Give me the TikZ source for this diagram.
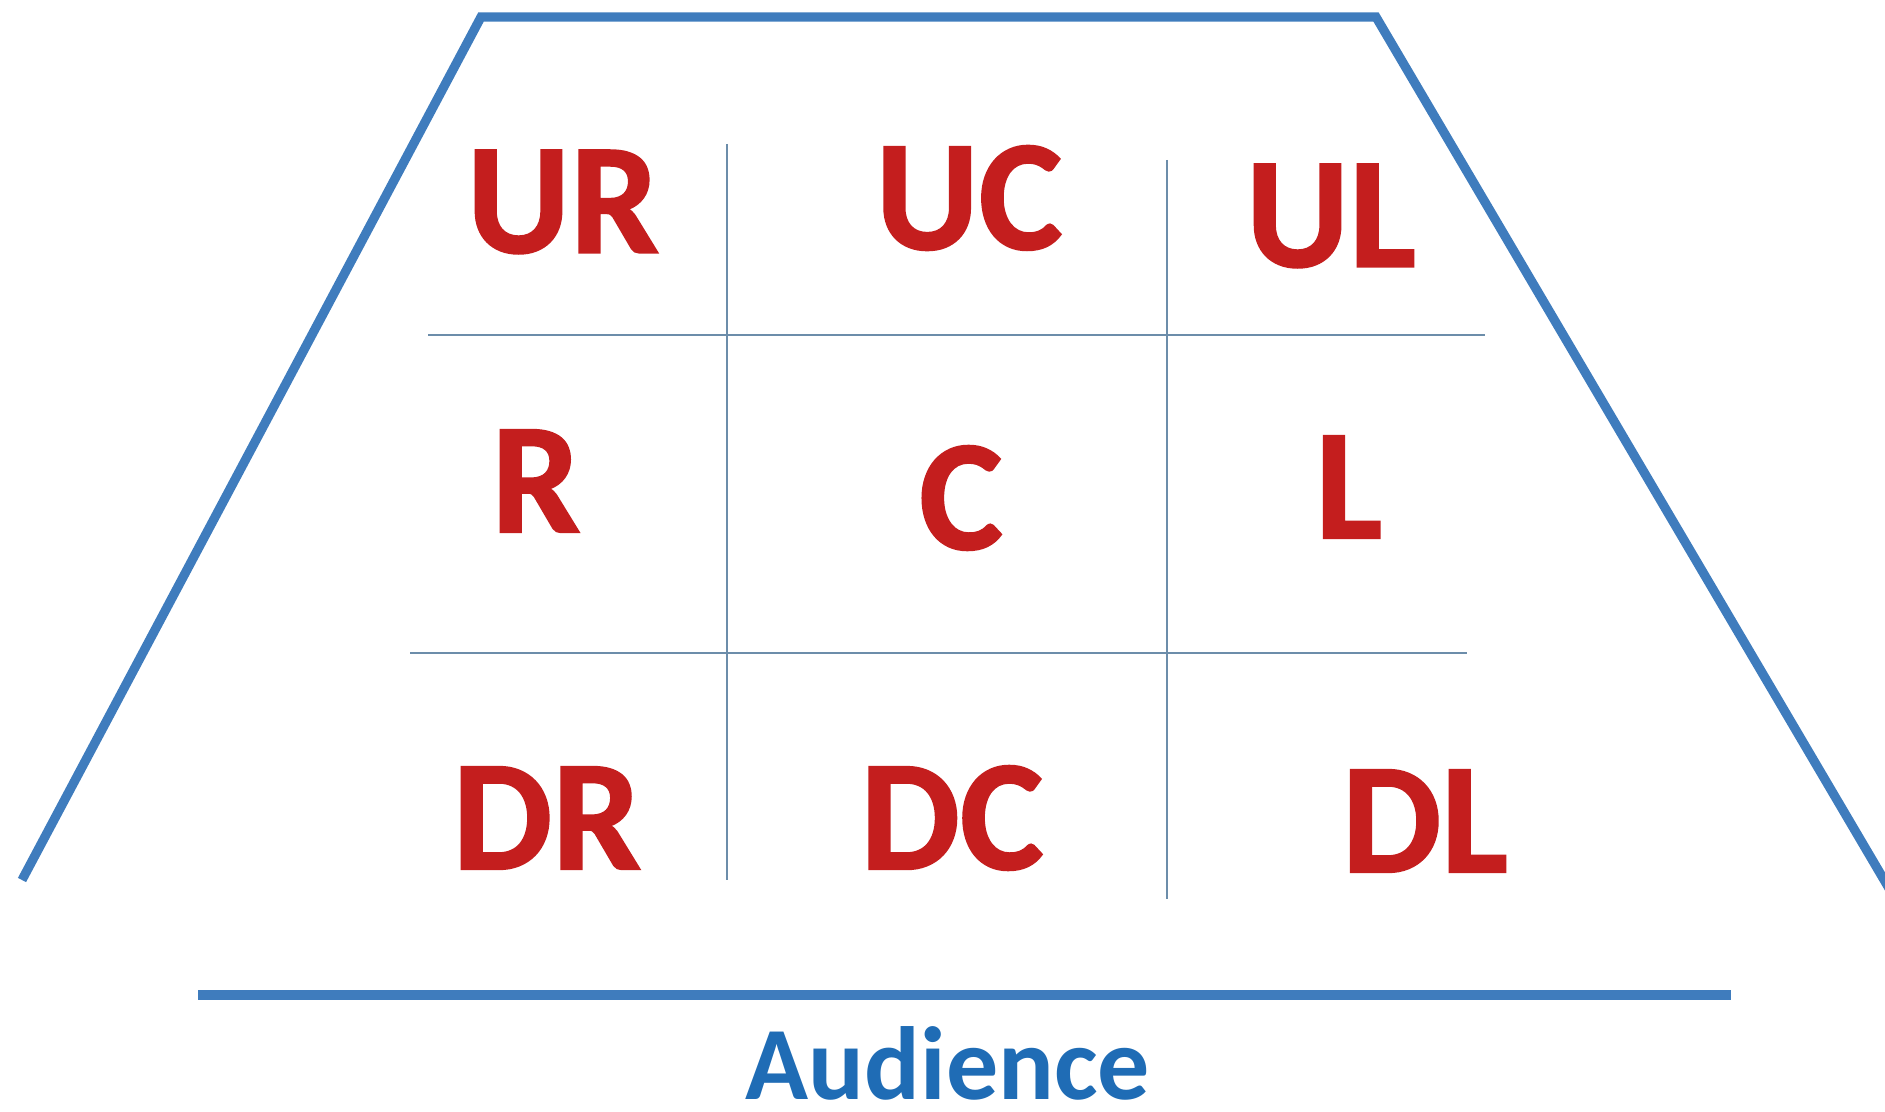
\documentclass[tikz,border=0pt]{standalone}
\usepackage{fontspec}
\setmainfont{Carlito}
\newfontfamily\areafont[FakeBold=1.2]{Carlito Bold}
\usepackage{xcolor}
\definecolor{stageBlue}{HTML}{3F7CBD}
\definecolor{gridBlue}{HTML}{6C8DAA}
\definecolor{areaRed}{HTML}{C41E1E}
\definecolor{audienceBlue}{HTML}{1F6CB5}

\begin{document}
\begin{tikzpicture}[x=0.5pt, y=-0.5pt,
    stageline/.style={draw=stageBlue, line width=4.6pt},
    gridline/.style={draw=gridBlue, line width=0.8pt},
    area/.style={inner sep=0pt, text=areaRed, font=\fontsize{79}{79}\selectfont\areafont},
    audiencelabel/.style={inner sep=0pt, text=audienceBlue, font=\fontsize{52}{52}\selectfont\bfseries}]
    \useasboundingbox (0,0) rectangle (1885,1112);
    % stage outline
    \coordinate (backL) at (481,17);
    \coordinate (backR) at (1376,17);
    \coordinate (frontL) at (22,880);
    \coordinate (frontR) at (1890,890);
    \draw[stageline] (frontL) -- (backL) -- (backR) -- (frontR);
    % grid
    \coordinate (v1a) at (727,144);  \coordinate (v1b) at (727,880);
    \coordinate (v2a) at (1167,160); \coordinate (v2b) at (1167,899);
    \coordinate (h1a) at (428,335);  \coordinate (h1b) at (1485,335);
    \coordinate (h2a) at (410,653);  \coordinate (h2b) at (1467,653);
    \draw[gridline] (v1a) -- (v1b);
    \draw[gridline] (v2a) -- (v2b);
    \draw[gridline] (h1a) -- (h1b);
    \draw[gridline] (h2a) -- (h2b);
    % areas
    \node[area] (ur) at (563,202) {UR};
    \node[area] (uc) at (969,198) {UC};
    \node[area] (ul) at (1331,216) {UL};
    \node[area] (r)  at (536,481) {R};
    \node[area] (c)  at (961,498) {C};
    \node[area] (l)  at (1349,487) {L};
    \node[area] (dr) at (547,818) {DR};
    \node[area] (dc) at (952,818) {DC};
    \node[area] (dl) at (1425,821) {DL};
    % audience
    \coordinate (edgeL) at (198,995);
    \coordinate (edgeR) at (1731,995);
    \draw[stageline] (edgeL) -- (edgeR);
    \node[audiencelabel] (audience) at (948,1063) {Audience};
\end{tikzpicture}
\end{document}
